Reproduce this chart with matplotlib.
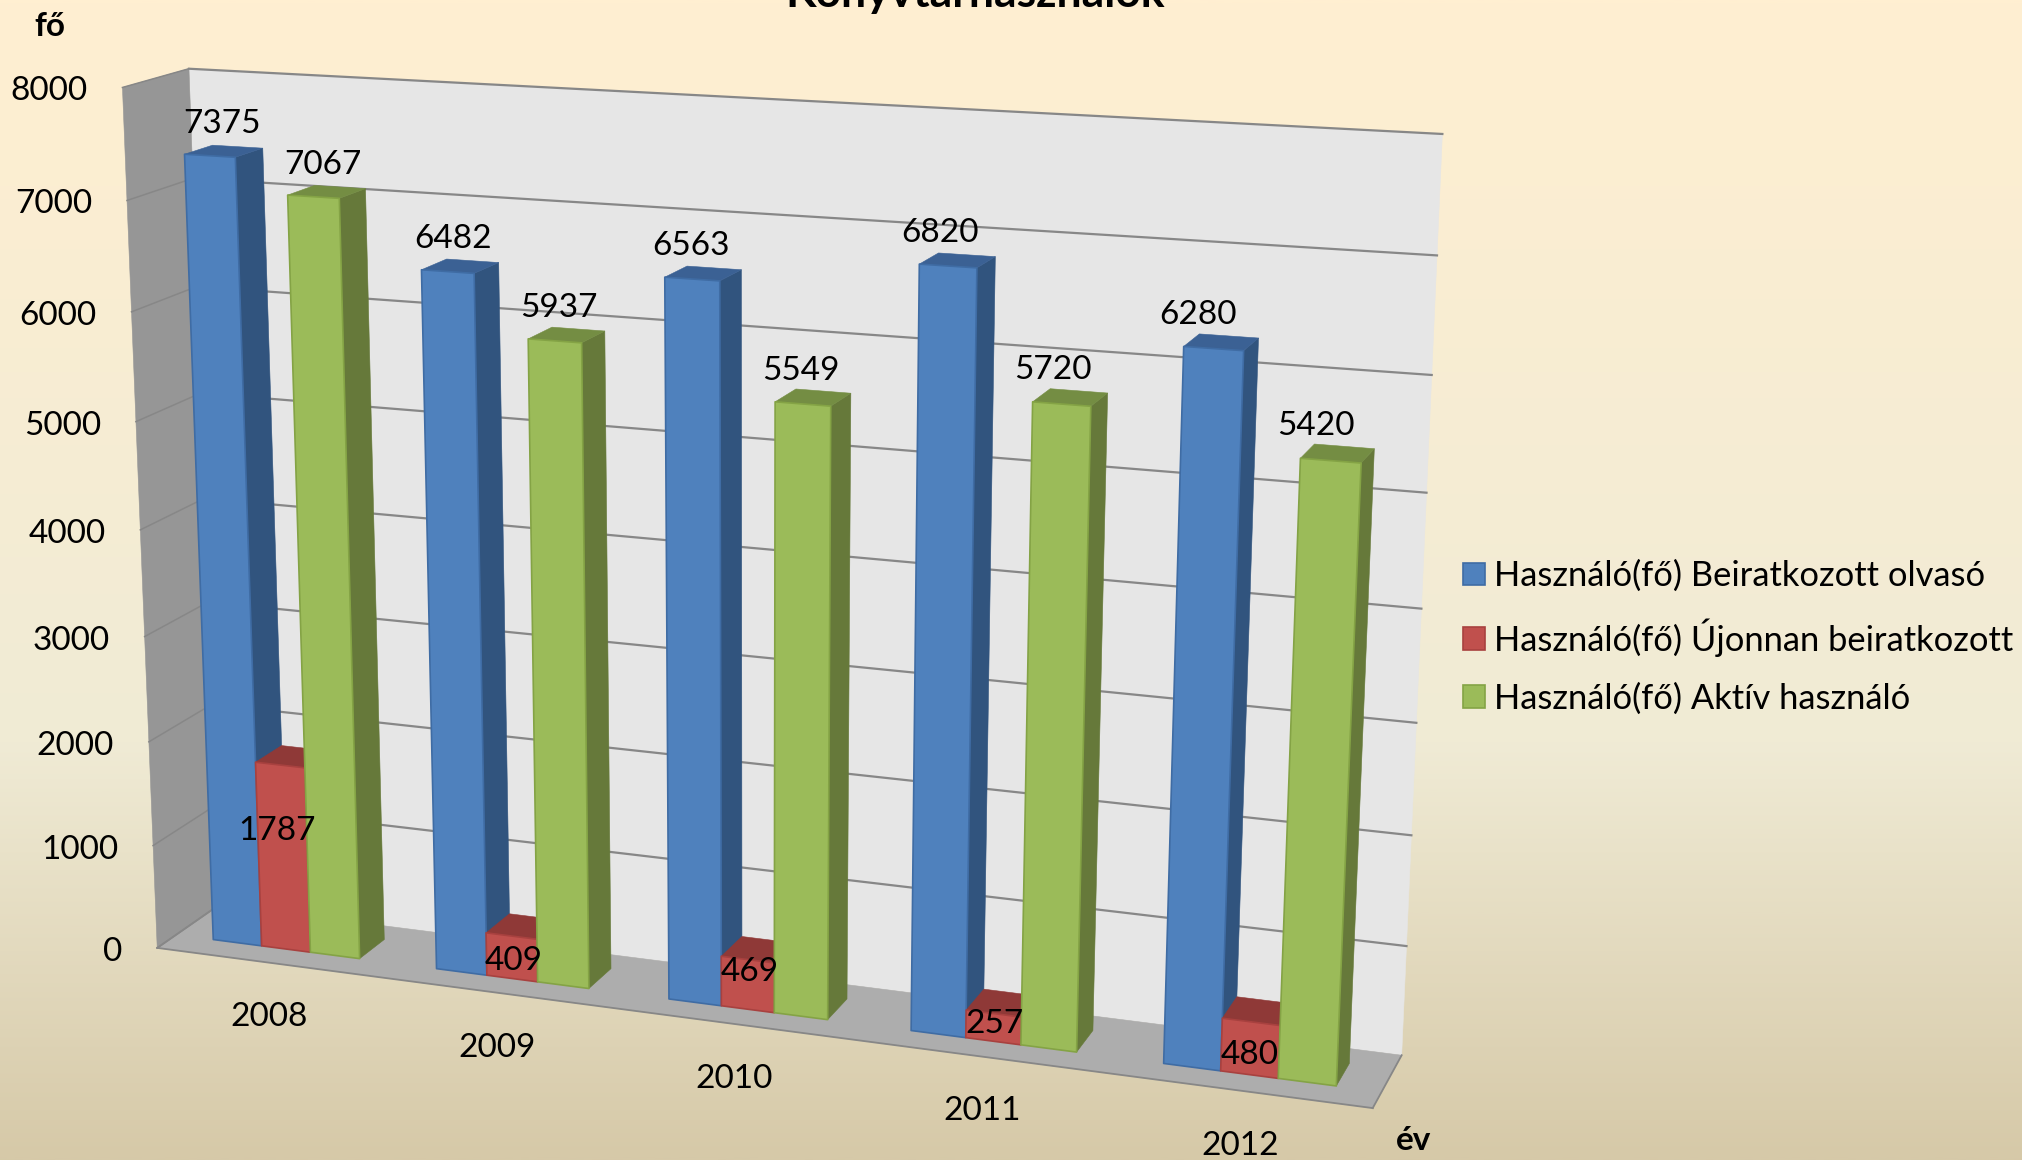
import numpy as np
import matplotlib
matplotlib.use("Agg")
import matplotlib.pyplot as plt
from matplotlib.patches import Patch
from matplotlib.colors import LinearSegmentedColormap

years = ["2008", "2009", "2010", "2011", "2012"]
beiratkozott = [7375, 6482, 6563, 6820, 6280]
ujonnan = [1787, 409, 469, 257, 480]
aktiv = [7067, 5937, 5549, 5720, 5420]
y_ticks = [0, 1000, 2000, 3000, 4000, 5000, 6000, 7000, 8000]
series_names = ["Használó(fő) Beiratkozott olvasó",
                "Használó(fő) Újonnan beiratkozott",
                "Használó(fő) Aktív használó"]
title = "Könyvtárhasználók"

plt.rcParams['font.family'] = ['Lato', 'DejaVu Sans']
W, H = 2022, 1160
YMAX = 8000.0
NCAT = len(years)

# camera calibration: chart-box corners (x category, y value, z depth 0 front .. 1 back) -> pixels
CALIB = [((0, 0, 1), (212, 904), 1), ((5, 0, 1), (1403, 1055), 1),
         ((5, 8000, 1), (1442, 134), 1), ((0, 8000, 1), (190.6, 69), 2),
         ((0, 8000, 0), (121.4, 87.3), 2.5), ((0, 0, 0), (158, 948), 3),
         ((5, 0, 0), (1371.7, 1108.3), 1)]
A = []
for (x, y, z), (u, v), wt in CALIB:
    X = [x, y / YMAX, z, 1]
    A.append([wt * c for c in X + [0, 0, 0, 0] + [-u * c for c in X]])
    A.append([wt * c for c in [0, 0, 0, 0] + X + [-v * c for c in X]])
A = np.array(A, float)
sc = np.array([1, 1, 1, 1, 1, 1, 1, 1, 1000, 1000, 1000, 1000.])
P = np.linalg.svd(A * sc)[2][-1] * sc
P = P.reshape(3, 4)


def proj(x, y, z):
    h = P @ np.array([x, y / YMAX, z, 1.0])
    return h[0] / h[2], h[1] / h[2]


def face(ax, pts, fc, ec=None, lw=0.0, zorder=2):
    xy = [proj(*p) for p in pts]
    ax.fill(*zip(*xy), facecolor=fc, edgecolor=ec if ec else fc, linewidth=lw if ec else 0.4,
            zorder=zorder, joinstyle='round')


fig = plt.figure(figsize=(W / 100, H / 100), dpi=100)
ax = fig.add_axes([0, 0, 1, 1])
ax.set_xlim(0, W)
ax.set_ylim(H, 0)
ax.axis('off')

cmap = LinearSegmentedColormap.from_list('bg', [(0, '#FFEFD1'), (0.64, '#F0EBD5'), (1, '#D6C9A8')])
ax.imshow(np.linspace(0, 1, 512)[:, None], cmap=cmap, extent=[0, W, H, 0], aspect='auto', zorder=0)
ax.set_xlim(0, W)
ax.set_ylim(H, 0)

# walls + floor
face(ax, [(0, 0, 1), (5, 0, 1), (5, YMAX, 1), (0, YMAX, 1)], '#E6E6E6', zorder=1)
face(ax, [(0, 0, 0), (0, 0, 1), (0, YMAX, 1), (0, YMAX, 0)], '#969696', zorder=1)
face(ax, [(0, 0, 0), (5, 0, 0), (5, 0, 1), (0, 0, 1)], '#ADADAD', zorder=1)

GRID = '#878787'
for t in y_ticks:
    a, b, c = proj(0, t, 0), proj(0, t, 1), proj(5, t, 1)
    if t > 0:
        ax.plot([b[0], c[0]], [b[1], c[1]], color=GRID, lw=1.6, zorder=1.5)
    ax.plot([a[0], b[0]], [a[1], b[1]], color=GRID, lw=1.1, zorder=1.5)
    ax.text(a[0] - 35, a[1] + 4, str(t), ha='right', va='center', fontsize=24, zorder=6)
for p, q in [((0, 0, 0), (5, 0, 0)), ((5, 0, 0), (5, 0, 1)), ((0, 0, 0), (0, 0, 1))]:
    a, b = proj(*p), proj(*q)
    ax.plot([a[0], b[0]], [a[1], b[1]], color=GRID, lw=1.3, zorder=1.5)

# bars
GAP = 0.17
Z0, Z1 = 0.30, 0.73
BW = (1 - 2 * GAP) / 3
series = [beiratkozott, ujonnan, aktiv]
FRONT = ['#4F81BD', '#C0504D', '#9BBB59']
SIDE = ['#31547E', '#803634', '#66793A']
TOP = ['#3B6194', '#8F3937', '#748D43']
EDGE = ['#3F6CA4', '#A8413F', '#84A345']
order = 3.0
for c in range(NCAT):
    for s, vals in enumerate(series):
        x0 = c + GAP + s * BW
        x1 = x0 + BW
        v = vals[c]
        order += 0.01
        face(ax, [(x1, 0, Z0), (x1, 0, Z1), (x1, v, Z1), (x1, v, Z0)], SIDE[s], zorder=order)
        face(ax, [(x0, v, Z0), (x1, v, Z0), (x1, v, Z1), (x0, v, Z1)], TOP[s], zorder=order)
        face(ax, [(x0, 0, Z0), (x1, 0, Z0), (x1, v, Z0), (x0, v, Z0)], FRONT[s], ec=EDGE[s], lw=1.2, zorder=order)

# data labels
RED_DY = [74, 35, 22, 21, 44]
RED_DX = [-16, -9, -8, -8, -9]
for c in range(NCAT):
    for s, vals in enumerate(series):
        x = c + GAP + (s + 0.5) * BW
        px, py = proj(x, vals[c], (Z0 + Z1) / 2)
        if s == 1:
            dx, dy = RED_DX[c], RED_DY[c]
        else:
            slope = 0.021 if s == 0 else 0.018
            dx, dy = -2 - slope * (px - 224), -27
        ax.text(px + dx, py + dy, str(vals[c]), ha='center', va='center', fontsize=24, zorder=8)

# category labels
for c, lab in enumerate(years):
    px, py = proj(c + 0.5, 0, 0)
    ax.text(px + 1, py + 55, lab, ha='center', va='center', fontsize=24, zorder=6)

ax.text(975, 7, title, ha='center', va='baseline', fontsize=32, fontweight='bold', zorder=6, clip_on=False)
ax.text(50, 27, "fő", ha='center', va='center', fontsize=24, fontweight='bold', zorder=6)
ax.text(1414, 1140, "év", ha='center', va='center', fontsize=24, fontweight='bold', zorder=6)

handles = [Patch(facecolor=FRONT[i], edgecolor=EDGE[i], linewidth=1.2, label=series_names[i]) for i in range(3)]
ax.legend(handles=handles, loc='upper left', bbox_to_anchor=(1463, 560), bbox_transform=ax.transData,
          frameon=False, fontsize=24.8, borderpad=0, borderaxespad=0, handlelength=0.63, handleheight=0.63,
          handletextpad=0.28, labelspacing=0.75)

fig.savefig('out.png', dpi=100)
